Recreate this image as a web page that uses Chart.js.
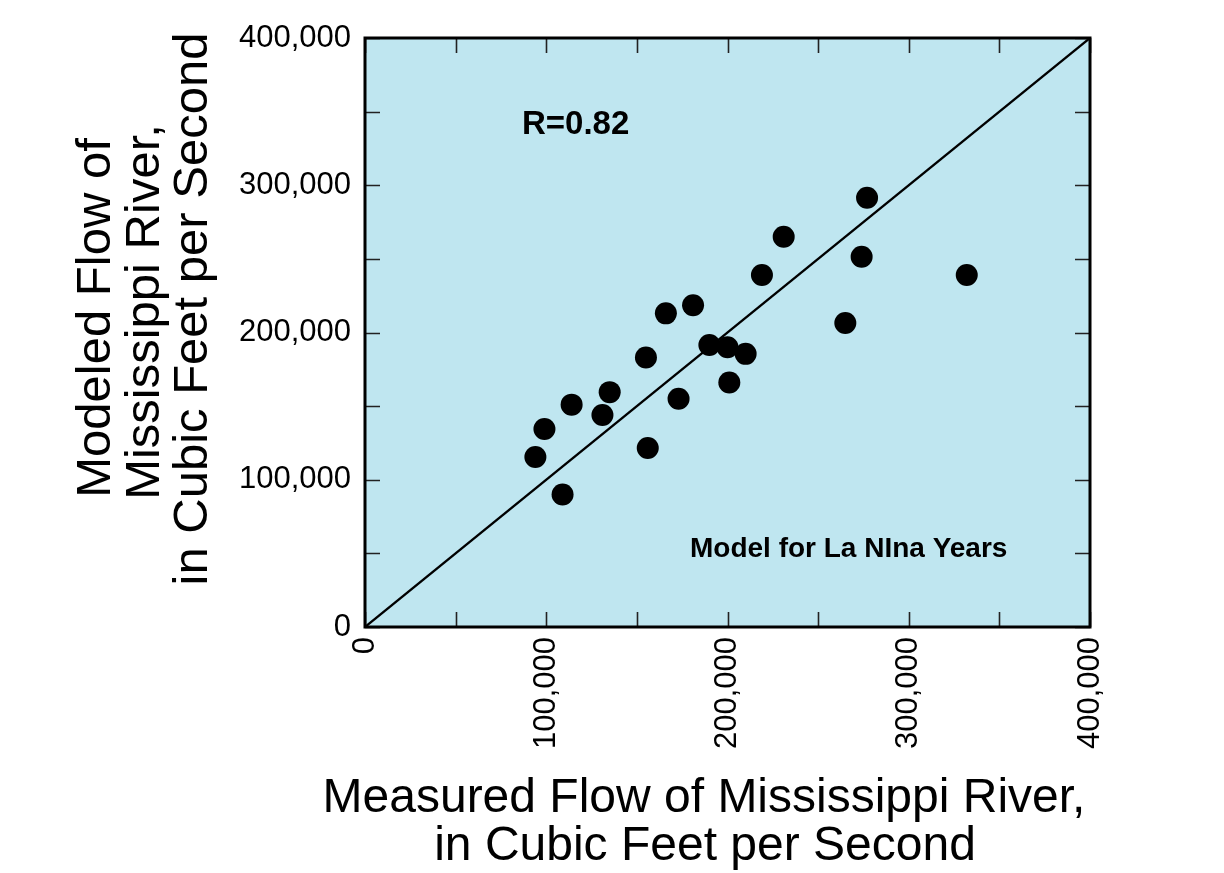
<!DOCTYPE html>
<html>
<head>
<meta charset="utf-8">
<script src="https://cdn.jsdelivr.net/npm/chart.js@4.4.0/dist/chart.umd.min.js"></script>
<style>html,body{margin:0;padding:0;background:#fff;}canvas{display:block;}</style>
</head>
<body>
<canvas id="c" width="1224" height="873"></canvas>
<script>
// ---- data ----
const measuredFlow = [94000, 99000, 109000, 114000, 131000, 135000, 156000, 155000, 166000, 173000, 181000,
                      190000, 200000, 201000, 210000, 219000, 231000, 265000, 274000, 277000, 332000];
const modeledFlow  = [115500, 134500, 90000, 151000, 144000, 159500, 121500, 183000, 213000, 155000, 218500,
                      191500, 190000, 166000, 185500, 239000, 265000, 206500, 251500, 291500, 239000];
const oneToOneX = [0, 400000];
const oneToOneY = [0, 400000];
const majorTickValues = [0, 100000, 200000, 300000, 400000];
const tickLabels = ['0', '100,000', '200,000', '300,000', '400,000'];
const minorTickValues = [0, 50000, 100000, 150000, 200000, 250000, 300000, 350000, 400000];
const xTitleLines = ['Measured Flow of Mississippi River,', 'in Cubic Feet per Second'];
const yTitleLines = ['Modeled Flow of', 'Mississippi River,', 'in Cubic Feet per Second'];
const rText = 'R=0.82';
const modelText = 'Model for La NIna Years';
const rTextAt = [86600, 335000];
const modelTextAt = [179300, 47300];

const FONT = '"Liberation Sans", Arial, Helvetica, sans-serif';
Chart.defaults.font.family = FONT;
Chart.defaults.color = '#000';

const scatterPoints = measuredFlow.map((x, i) => ({x: x, y: modeledFlow[i]}));
const linePoints = oneToOneX.map((x, i) => ({x: x, y: oneToOneY[i]}));

function labelFor(value) {
  const i = majorTickValues.indexOf(value);
  return i >= 0 ? tickLabels[i] : '';
}

const framePlugin = {
  id: 'frame',
  beforeDatasetsDraw(chart) {
    const {ctx, chartArea: a} = chart;
    ctx.save();
    ctx.fillStyle = '#bfe6f0';
    ctx.fillRect(a.left, a.top, a.right - a.left, a.bottom - a.top);
    ctx.restore();
  },
  afterDatasetsDraw(chart) {
    const {ctx, chartArea: a, scales} = chart;
    const xs = scales.x, ys = scales.y;
    ctx.save();
    ctx.strokeStyle = '#222';
    ctx.lineWidth = 1.6;
    const L = 15;
    ctx.beginPath();
    minorTickValues.forEach(v => {
      const px = Math.round(xs.getPixelForValue(v)) + 0.5;
      ctx.moveTo(px, a.bottom); ctx.lineTo(px, a.bottom - L);
      ctx.moveTo(px, a.top); ctx.lineTo(px, a.top + L);
      const py = Math.round(ys.getPixelForValue(v)) + 0.5;
      ctx.moveTo(a.left, py); ctx.lineTo(a.left + L, py);
      ctx.moveTo(a.right, py); ctx.lineTo(a.right - L, py);
    });
    ctx.stroke();
    ctx.strokeStyle = '#000';
    ctx.lineWidth = 3;
    ctx.strokeRect(a.left, a.top, a.right - a.left, a.bottom - a.top);
    ctx.fillStyle = '#000';
    ctx.textBaseline = 'alphabetic';
    ctx.textAlign = 'left';
    ctx.font = 'bold 33px ' + FONT;
    ctx.fillText(rText, xs.getPixelForValue(rTextAt[0]), ys.getPixelForValue(rTextAt[1]));
    ctx.font = 'bold 28px ' + FONT;
    ctx.fillText(modelText, xs.getPixelForValue(modelTextAt[0]), ys.getPixelForValue(modelTextAt[1]));
    ctx.restore();
  },
  afterDraw(chart) {
    const {ctx} = chart;
    ctx.save();
    ctx.fillStyle = '#000';
    ctx.textAlign = 'center';
    ctx.textBaseline = 'alphabetic';
    ctx.font = '48px ' + FONT;
    const xCenters = [704, 705];
    const xBase = [812, 860];
    xTitleLines.forEach((t, i) => ctx.fillText(t, xCenters[i], xBase[i]));
    ctx.font = '49px ' + FONT;
    const yBase = [110, 159, 207];
    const yCenters = [318, 312, 309];
    yTitleLines.forEach((t, i) => {
      ctx.save();
      ctx.translate(yBase[i], yCenters[i]);
      ctx.rotate(-Math.PI / 2);
      ctx.fillText(t, 0, 0);
      ctx.restore();
    });
    ctx.restore();
  }
};

new Chart(document.getElementById('c'), {
  type: 'scatter',
  data: {
    datasets: [
      {
        type: 'line',
        data: linePoints,
        borderColor: '#000',
        borderWidth: 2.3,
        pointRadius: 0,
        fill: false,
        tension: 0
      },
      {
        data: scatterPoints,
        backgroundColor: '#000',
        borderColor: '#000',
        borderWidth: 0,
        pointRadius: 11,
        pointHoverRadius: 11
      }
    ]
  },
  options: {
    responsive: false,
    devicePixelRatio: 1,
    animation: false,
    events: [],
    layout: {padding: {left: 0, top: 38, right: 134, bottom: 0}},
    plugins: {legend: {display: false}, tooltip: {enabled: false}, title: {display: false}},
    scales: {
      x: {
        type: 'linear',
        min: 0, max: 400000,
        grid: {display: false, drawTicks: false},
        border: {display: false},
        ticks: {
          stepSize: 100000,
          maxRotation: 90, minRotation: 90,
          padding: 10,
          font: {size: 31},
          color: '#000',
          callback: (v) => labelFor(v)
        },
        afterFit(scale) { scale.height = 246; }
      },
      y: {
        type: 'linear',
        min: 0, max: 400000,
        grid: {display: false, drawTicks: false},
        border: {display: false},
        ticks: {
          stepSize: 100000,
          padding: 14,
          font: {size: 31},
          color: '#000',
          callback: (v) => labelFor(v)
        },
        afterFit(scale) { scale.width = 365; }
      }
    }
  },
  plugins: [framePlugin]
});
</script>
</body>
</html>
